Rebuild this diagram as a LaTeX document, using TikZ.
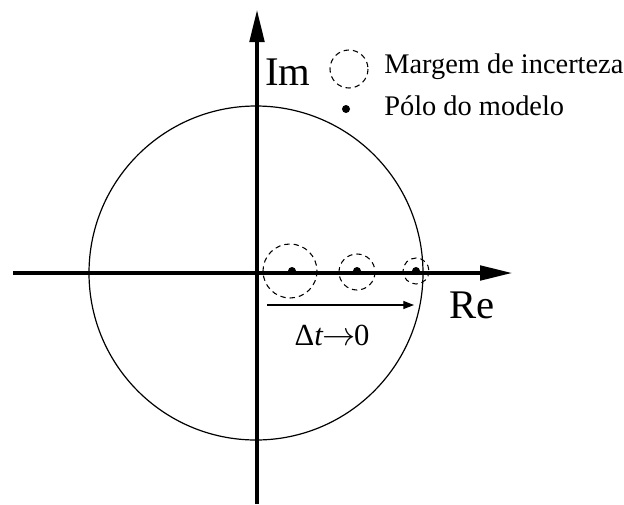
\documentclass[tikz,border=0pt]{standalone}
\usepackage{fontspec}
\setmainfont{Liberation Serif}
\usetikzlibrary{arrows.meta}

\begin{document}
\begin{tikzpicture}[
  x=0.75pt, y=-0.75pt,
  axis/.style={line width=2.3pt, -{Triangle[length=24pt,width=11pt]}},
  unitcirc/.style={draw, line width=0.9pt},
  margin/.style={draw, line width=0.8pt, dash pattern=on 4pt off 3pt},
  pole/.style={fill, circle, inner sep=0pt, minimum size=6pt},
  dtarrow/.style={line width=0.9pt, -{Triangle[length=8pt,width=6pt]}},
  bigtxt/.style={font=\fontsize{30.5}{32}\selectfont, anchor=base, inner sep=0pt},
  legtxt/.style={font=\fontsize{21.3}{23}\selectfont, anchor=base west, inner sep=0pt}
]
\useasboundingbox (0,0) rectangle (624,504);

\coordinate (origin) at (257,273);
\coordinate (imlow) at (257,504);
\coordinate (imtop) at (257,10);
\coordinate (releft) at (13,273);
\coordinate (reright) at (512,273);

\draw[unitcirc] (256,273) circle[radius=167];

\draw[axis] (releft) -- (reright);
\draw[axis] (imlow) -- (imtop);

\node[bigtxt] (im) at (288,85) {Im};
\node[bigtxt] (re) at (472,318) {Re};

\draw[margin] (290,271) circle[radius=27];
\draw[margin] (357,272) circle[radius=18];
\draw[margin] (416,271) circle[radius=13];
\node[pole] (p1) at (292,271) {};
\node[pole] (p2) at (357,271) {};
\node[pole] (p3) at (416,271) {};

\coordinate (dtstart) at (267,305);
\coordinate (dtend) at (414,305);
\draw[dtarrow] (dtstart) -- (dtend);
\node[font=\fontsize{23}{25}\selectfont, anchor=base, inner sep=0pt] (dt) at (332,345) {Δ\textit{t}\kern-1pt$\rightarrow$\kern-1pt0};

\draw[margin] (349,69) circle[radius=19];
\node[legtxt] (legmargin) at (384,73) {Margem de incerteza};
\node[pole] (legdot) at (346,109) {};
\node[legtxt] (legpole) at (384,115) {Pólo do modelo};
\end{tikzpicture}
\end{document}
